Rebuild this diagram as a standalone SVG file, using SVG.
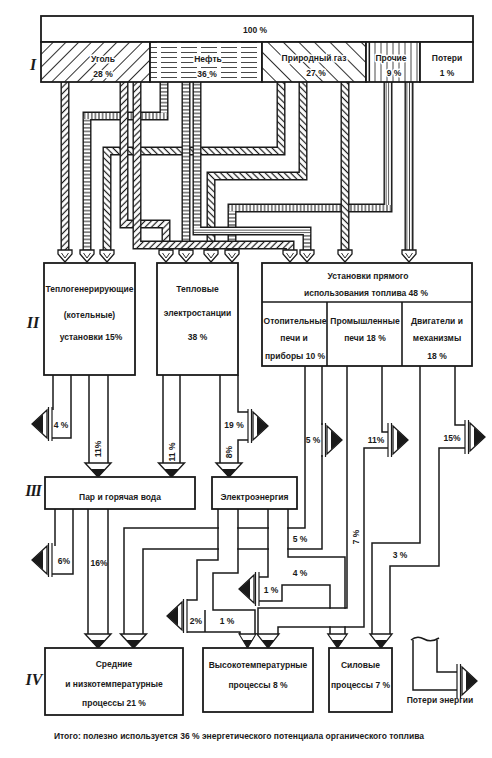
<svg xmlns="http://www.w3.org/2000/svg" width="492" height="758" viewBox="0 0 492 758">
<defs>
<style>
.t{font-family:"Liberation Sans","Noto Sans",sans-serif;font-weight:bold;font-size:8.5px;fill:#1a1a1a;text-anchor:middle}
.h{stroke:#fff;stroke-width:3px;paint-order:stroke;stroke-linejoin:round}
.b{fill:#fff;stroke:#1a1a1a;stroke-width:1.8}
.ln{fill:none;stroke:#1a1a1a;stroke-width:1.5}
.po{fill:none;stroke:#1a1a1a;stroke-width:9;stroke-linejoin:miter}
.pi{fill:none;stroke-width:6.2;stroke-linejoin:miter}
.rn{font-family:"Liberation Serif",serif;font-style:italic;font-weight:bold;font-size:16px;fill:#1a1a1a;text-anchor:middle}
.w{fill:#fff;stroke:none}
</style>
<pattern id="coalP" width="4.5" height="4.5" patternUnits="userSpaceOnUse" patternTransform="rotate(45)"><rect width="4.5" height="4.5" fill="#fff"/><line x1="2.25" y1="0" x2="2.25" y2="4.5" stroke="#1a1a1a" stroke-width="1.2"/></pattern>
<pattern id="gasP" width="4.5" height="4.5" patternUnits="userSpaceOnUse" patternTransform="rotate(-45)"><rect width="4.5" height="4.5" fill="#fff"/><line x1="2.25" y1="0" x2="2.25" y2="4.5" stroke="#1a1a1a" stroke-width="1.2"/></pattern>
<pattern id="oilV" width="10" height="3.6" patternUnits="userSpaceOnUse"><rect width="10" height="3.6" fill="#fff"/><line x1="0" y1="1.8" x2="10" y2="1.8" stroke="#1a1a1a" stroke-width="1"/></pattern>
<pattern id="oilH" width="3.6" height="10" patternUnits="userSpaceOnUse"><rect width="3.6" height="10" fill="#fff"/><line x1="1.8" y1="0" x2="1.8" y2="10" stroke="#1a1a1a" stroke-width="1"/></pattern>
<pattern id="prV" width="2.6" height="10" patternUnits="userSpaceOnUse"><rect width="2.6" height="10" fill="#fff"/><line x1="1.3" y1="0" x2="1.3" y2="10" stroke="#1a1a1a" stroke-width="0.8"/></pattern>
<pattern id="prH" width="10" height="2.6" patternUnits="userSpaceOnUse"><rect width="10" height="2.6" fill="#fff"/><line x1="0" y1="1.3" x2="10" y2="1.3" stroke="#1a1a1a" stroke-width="0.8"/></pattern>
<pattern id="coalCell" width="9" height="9" patternUnits="userSpaceOnUse" patternTransform="rotate(45)"><rect width="9" height="9" fill="#fff"/><line x1="4.5" y1="0" x2="4.5" y2="9" stroke="#1a1a1a" stroke-width="0.9"/></pattern>
<pattern id="oilCell" width="20" height="5" patternUnits="userSpaceOnUse"><rect width="20" height="5" fill="#fff"/><line x1="1" y1="2.5" x2="17" y2="2.5" stroke="#1a1a1a" stroke-width="0.8"/></pattern>
<pattern id="gasCell" width="11" height="11" patternUnits="userSpaceOnUse" patternTransform="rotate(-45)"><rect width="11" height="11" fill="#fff"/><line x1="5.5" y1="0" x2="5.5" y2="11" stroke="#1a1a1a" stroke-width="0.9"/></pattern>
<pattern id="prCell" width="6" height="10" patternUnits="userSpaceOnUse"><rect width="6" height="10" fill="#fff"/><line x1="3" y1="0" x2="3" y2="10" stroke="#1a1a1a" stroke-width="0.8"/></pattern>
<g id="pa"><polygon points="-7,-1 7,-1 7,3 0,11 -7,3" fill="#fff" stroke="#1a1a1a" stroke-width="1.3"/><polyline points="-3.5,2 0,7 3.5,2" fill="none" stroke="#1a1a1a" stroke-width="0.9"/></g>
<g id="ad"><polygon points="-13,-14 13,-14 0,0" fill="#fff" stroke="#1a1a1a" stroke-width="1.4"/><polygon points="-7.5,-8 7.5,-8 0,0" fill="#1a1a1a"/></g>
<g id="ll"><line x1="0" y1="-17" x2="0" y2="17" stroke="#1a1a1a" stroke-width="1.2"/><line x1="-3.5" y1="-17" x2="-3.5" y2="17" stroke="#1a1a1a" stroke-width="1.2"/><polygon points="-5,-14 -20,0 -5,14" fill="#fff" stroke="#1a1a1a" stroke-width="1.3"/><polygon points="-9,-9.5 -20,0 -9,9.5" fill="#1a1a1a"/></g>
</defs>
<rect width="492" height="758" fill="#fff"/>

<g id="connectors">
 <g id="pipes">
  <path class="po" d="M281,82 V151 H107 V251"/><path class="pi" stroke="url(#gasP)" d="M281,82 V151 H107 V251"/>
  <path class="po" d="M164,82 V116 H87 V251"/><path class="pi" stroke="url(#oilV)" d="M164,82 V116"/><path class="pi" stroke="url(#oilV)" d="M87,116 V251"/><path class="pi" stroke="url(#oilH)" d="M167.1,116 H83.9"/>
  <path class="po" d="M303,82 V176 H211 V251"/><path class="pi" stroke="url(#gasP)" d="M303,82 V176 H211 V251"/>
  <path class="po" d="M388,82 V208 H232 V251"/><path class="pi" stroke="url(#prV)" d="M388,82 V208"/><path class="pi" stroke="url(#oilV)" d="M232,208 V251"/><path class="pi" stroke="url(#oilH)" d="M391.1,208 H228.9"/>
  <path class="po" d="M124,82 V224 H166 V251"/><path class="pi" stroke="url(#coalP)" d="M124,82 V224 H166 V251"/>
  <path class="po" d="M186,82 V251"/><path class="pi" stroke="url(#oilV)" d="M186,82 V251"/>
  <path class="po" d="M345,82 V251"/><path class="pi" stroke="url(#gasP)" d="M345,82 V251"/>
  <path class="po" d="M409,82 V251"/><path class="pi" stroke="url(#prV)" d="M409,82 V251"/>
  <path class="po" d="M65,82 V251"/><path class="pi" stroke="url(#coalP)" d="M65,82 V251"/>
  <path class="po" d="M197,82 V231 H307 V251"/><path class="pi" stroke="url(#oilV)" d="M197,82 V231"/><path class="pi" stroke="url(#oilV)" d="M307,231 V251"/><path class="pi" stroke="url(#prH)" d="M193.9,231 H310.1"/>
  <path class="po" d="M137,82 V245 H290 V251"/><path class="pi" stroke="url(#coalP)" d="M137,82 V245 H290 V251"/>
  <use href="#pa" x="65" y="251"/><use href="#pa" x="87" y="251"/><use href="#pa" x="107" y="251"/>
  <use href="#pa" x="166" y="251"/><use href="#pa" x="186" y="251"/><use href="#pa" x="211" y="251"/><use href="#pa" x="232" y="251"/>
  <use href="#pa" x="290" y="251"/><use href="#pa" x="307" y="251"/><use href="#pa" x="345" y="251"/><use href="#pa" x="409" y="251"/>
 </g>
 <g id="channels">
  <path class="ln" d="M53,375 V410 M71,375 V438 H52"/>
  <path class="ln" d="M89,375 V463 M108,375 V463"/>
  <path class="ln" d="M163,375 V463 M180,375 V463"/>
  <path class="ln" d="M220,375 V463 M238,375 V412 H248 M248,440 H238 V463"/>
  <path class="ln" d="M305,366 V528 H124 V634 M322,366 V425 M322,455 V549 H143 V634"/>
  <path class="ln" d="M55,509 V546 M73,509 V574 H52"/>
  <path class="ln" d="M88,509 V634 M108,509 V634"/>
  <rect class="w" x="219" y="510" width="18.2" height="49"/>
  <rect class="w" x="269" y="510" width="18.2" height="46"/>
  <path class="ln" d="M218,509 V560 H197 V600 H187 M187,632 H240 V634 M238,509 V573 H213 V610 H255 V634 M205,610 V632"/>
  <path class="ln" d="M268,509 V577 H259 M259,601 H282 V585 H330 V634 M288,509 V557 H345 V634"/>
  <rect class="w" x="258.8" y="608.8" width="104.5" height="17.5"/>
  <path class="ln" d="M347,366 V608 H258 V634 M382,366 V432 H388 M388,448 H364 V627 H278 V634"/>
  <path class="ln" d="M420,366 V543 H372 V634 M455,366 V425 H465 M465,448 H439 V566 H390 V634"/>
  <use href="#ad" x="98" y="477"/><use href="#ad" x="171.5" y="477"/><use href="#ad" x="229" y="477"/>
  <use href="#ad" x="98" y="648"/><use href="#ad" x="133.5" y="648"/>
  <use href="#ad" transform="translate(247.5,648) scale(0.65,1)"/><use href="#ad" transform="translate(268,648) scale(0.85,1)"/>
  <use href="#ad" transform="translate(337.5,648) scale(0.75,1)"/><use href="#ad" transform="translate(381,648) scale(0.85,1)"/>
  <use href="#ll" transform="translate(52,424)"/>
  <use href="#ll" transform="translate(52,560)"/>
  <use href="#ll" transform="translate(187,616)"/>
  <use href="#ll" transform="translate(259,589)"/>
  <use href="#ll" transform="translate(248,426) scale(-1,1)"/>
  <use href="#ll" transform="translate(322,440) scale(-1,1)"/>
  <use href="#ll" transform="translate(388,440) scale(-1,1)"/>
  <use href="#ll" transform="translate(465,437) scale(-1,1)"/>
 </g>
 <g id="flow-labels">
  <text class="t" x="61" y="428">4 %</text>
  <text class="t" transform="translate(101,449) rotate(-90)">11%</text>
  <text class="t" transform="translate(175,452) rotate(-90)">11 %</text>
  <text class="t" x="234" y="428">19 %</text>
  <text class="t" transform="translate(232,452) rotate(-90)">8%</text>
  <text class="t" x="313" y="443">5 %</text>
  <text class="t" x="376" y="443">11%</text>
  <text class="t" x="452" y="441">15%</text>
  <text class="t" x="64" y="564">6%</text>
  <text class="t" x="99" y="566">16%</text>
  <text class="t" x="300" y="542">5 %</text>
  <text class="t" transform="translate(359,537) rotate(-90)">7 %</text>
  <text class="t" x="300" y="576">4 %</text>
  <text class="t" x="400" y="558">3 %</text>
  <text class="t" x="271" y="593">1 %</text>
  <text class="t" x="196" y="624">2%</text>
  <text class="t" x="227" y="624">1 %</text>
 </g>
</g>

<g id="n-total"><rect class="b" x="41" y="16" width="432" height="26"/><text class="t" x="255" y="33">100 %</text></g>
<g id="n-coal"><rect x="41" y="42" width="109" height="40" fill="url(#coalCell)" stroke="#1a1a1a" stroke-width="1.8"/><text class="t h" x="103" y="62">Уголь</text><text class="t h" x="103" y="77">28 %</text></g>
<g id="n-oil"><rect x="150" y="42" width="112" height="40" fill="url(#oilCell)" stroke="#1a1a1a" stroke-width="1.8"/><text class="t h" x="208" y="62">Нефть</text><text class="t h" x="207" y="77">36 %</text></g>
<g id="n-gas"><rect x="262" y="42" width="104" height="40" fill="url(#gasCell)" stroke="#1a1a1a" stroke-width="1.8"/><text class="t h" x="314" y="61">Природный газ</text><text class="t h" x="316" y="76">27 %</text></g>
<g id="n-other"><rect x="366" y="42" width="54" height="40" fill="url(#prCell)" stroke="#1a1a1a" stroke-width="1.8"/><line x1="369.5" y1="42" x2="369.5" y2="82" stroke="#1a1a1a" stroke-width="1.2"/><text class="t h" x="391" y="61">Прочие</text><text class="t h" x="394" y="76">9 %</text></g>
<g id="n-losses"><rect class="b" x="420" y="42" width="53" height="40"/><text class="t" x="447" y="61">Потери</text><text class="t" x="447" y="76">1 %</text></g>

<g id="n-boiler"><rect class="b" x="44" y="263" width="91" height="112"/><text class="t" x="89.5" y="292">Теплогенерирующие</text><text class="t" x="89.5" y="318">(котельные)</text><text class="t" x="91" y="340">установки 15%</text></g>
<g id="n-tpp"><rect class="b" x="157" y="263" width="81" height="112"/><text class="t" x="197.5" y="292">Тепловые</text><text class="t" x="197.5" y="316">электростанции</text><text class="t" x="197.5" y="340">38 %</text></g>
<g id="n-direct"><rect class="b" x="262" y="263" width="210" height="103"/><line x1="262" y1="302" x2="472" y2="302" stroke="#1a1a1a" stroke-width="1.6"/><text class="t" x="368" y="279">Установки прямого</text><text class="t" x="366" y="296">использования топлива  48 %</text></g>
<g id="n-heaters"><line x1="327" y1="302" x2="327" y2="366" stroke="#1a1a1a" stroke-width="1.6"/><text class="t" x="295" y="324">Отопительные</text><text class="t" x="294" y="341">печи и</text><text class="t" x="295" y="359">приборы 10 %</text></g>
<g id="n-furnaces"><text class="t" x="365" y="324">Промышленные</text><text class="t" x="365" y="341">печи 18 %</text></g>
<g id="n-engines"><line x1="402" y1="302" x2="402" y2="366" stroke="#1a1a1a" stroke-width="1.6"/><text class="t" x="437" y="324">Двигатели и</text><text class="t" x="437" y="341">механизмы</text><text class="t" x="437" y="359">18 %</text></g>

<g id="n-steam"><rect class="b" x="45" y="477" width="150" height="32"/><text class="t" x="120" y="500">Пар и горячая вода</text></g>
<g id="n-electric"><rect class="b" x="212" y="477" width="85" height="32"/><text class="t" x="254.5" y="500">Электроэнергия</text></g>

<g id="n-lowtemp"><rect class="b" x="45" y="648" width="138" height="67"/><text class="t" x="114" y="667">Средние</text><text class="t" x="114" y="687">и низкотемпературные</text><text class="t" x="114" y="706">процессы 21 %</text></g>
<g id="n-hightemp"><rect class="b" x="203" y="648" width="110" height="64"/><text class="t" x="258" y="668">Высокотемпературные</text><text class="t" x="258" y="688">процессы 8 %</text></g>
<g id="n-power"><rect class="b" x="329" y="648" width="63" height="64"/><text class="t" x="360.5" y="668">Силовые</text><text class="t" x="360.5" y="688">процессы 7 %</text></g>

<g id="legend">
 <path class="ln" d="M413,640 V690 H457 M437,640 V672 H457"/>
 <path class="ln" d="M411,640 q6,-5 13,-1 t15,-1"/>
 <use href="#ll" transform="translate(457,681) scale(-1,1)"/>
 <text class="t" x="440" y="703">Потери энергии</text>
</g>

<g id="levels">
 <text class="rn" x="33" y="70">I</text>
 <text class="rn" x="33" y="328">II</text>
 <text class="rn" x="33" y="496" letter-spacing="-1">III</text>
 <text class="rn" x="34" y="685">IV</text>
</g>

<text class="t" x="239" y="739">Итого: полезно используется 36 % энергетического потенциала органического топлива</text>
</svg>
